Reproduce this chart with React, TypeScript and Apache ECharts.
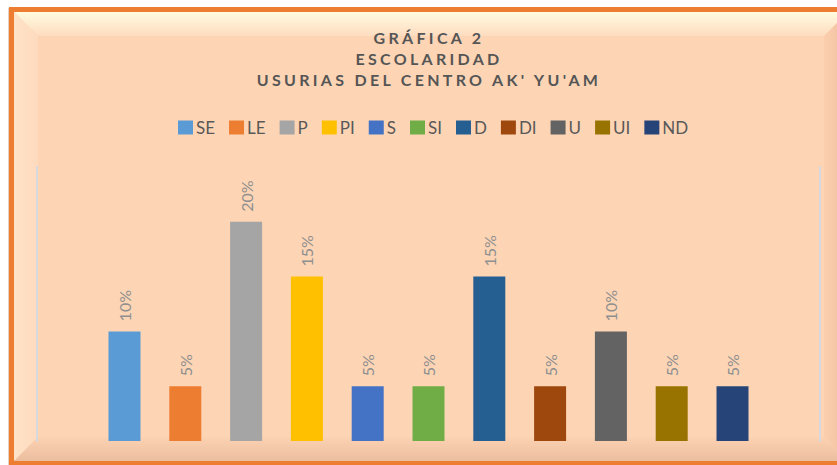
import React, { useEffect, useRef } from "react";
import * as echarts from "echarts";

const seriesNames = ["SE", "LE", "P", "PI", "S", "SI", "D", "DI", "U", "UI", "ND"];
const seriesValues = [10, 5, 20, 15, 5, 5, 15, 5, 10, 5, 5];
const palette = ["#5b9bd5", "#ed7d31", "#a5a5a5", "#ffc000", "#4472c4", "#70ad47", "#255e91", "#9e480e", "#636363", "#997300", "#264478"];
const categories = [""];
const titleLines = ["GRÁFICA 2", "ESCOLARIDAD", "USURIAS DEL CENTRO AK' YU'AM"];

export default function App() {
  const ref = useRef<HTMLDivElement>(null);
  useEffect(() => {
    if (!ref.current) return;
    const el = ref.current;
    const chart = echarts.init(el, null, { renderer: "svg" });
    const peach = "#fdd5b5";
    const X0 = 14, Y0 = 12, X1 = 848, Y1 = 461, B = 24;
    const option: any = {
      animation: false,
      backgroundColor: "#ffffff",
      title: {
        text: titleLines.join("\n"),
        left: 429,
        textAlign: "center",
        top: 27,
        padding: 0,
        textStyle: {
          fontFamily: "Lato",
          fontWeight: "bold",
          fontSize: 16,
          lineHeight: 21,
          color: "#555555",
        },
      },
      legend: {
        top: 119,
        left: 178,
        padding: 0,
        itemWidth: 15,
        itemHeight: 14,
        itemGap: 14,
        icon: "rect",
        textStyle: {
          fontFamily: "Lato",
          fontSize: 17,
          color: "#595959",
          padding: [0, 0, 0, -2],
        },
        data: seriesNames,
      },
      graphic: [
        {
          type: "rect",
          z: -10,
          shape: { x: 11.5, y: 9.5, width: 850, height: 453.5 },
          style: { fill: peach, stroke: "#ed7d31", lineWidth: 5 },
        },
        {
          type: "polygon",
          z: -9,
          shape: { points: [[X0, Y0], [X1, Y0], [X1 - B, Y0 + B], [X0 + B, Y0 + B]] },
          style: {
            fill: { type: "linear", x: 0, y: 0, x2: 0, y2: 1, colorStops: [{ offset: 0, color: "#fffbdf" }, { offset: 1, color: "#fedcc0" }] },
          },
        },
        {
          type: "polygon",
          z: -9,
          shape: { points: [[X0, Y0], [X0 + B, Y0 + B], [X0 + B, Y1 - B], [X0, Y1]] },
          style: {
            fill: { type: "linear", x: 0, y: 0, x2: 1, y2: 0, colorStops: [{ offset: 0, color: "#ffe3c8" }, { offset: 1, color: "#fedabd" }] },
          },
        },
        {
          type: "polygon",
          z: -9,
          shape: { points: [[X0, Y1], [X0 + B, Y1 - B], [X1 - B, Y1 - B], [X1, Y1]] },
          style: {
            fill: { type: "linear", x: 0, y: 0, x2: 0, y2: 1, colorStops: [{ offset: 0, color: "#fbd2b2" }, { offset: 1, color: "#ecbea0" }] },
          },
        },
        {
          type: "polygon",
          z: -9,
          shape: { points: [[X1, Y0], [X1, Y1], [X1 - B, Y1 - B], [X1 - B, Y0 + B]] },
          style: {
            fill: { type: "linear", x: 0, y: 0, x2: 1, y2: 0, colorStops: [{ offset: 0, color: "#fbcfae" }, { offset: 1, color: "#f0bfa0" }] },
          },
        },
        {
          type: "line",
          z: -9,
          shape: { x1: 8.5, y1: 8, x2: 8.5, y2: 465 },
          style: { stroke: "#e6d2c4", lineWidth: 1 },
        },
      ],
      grid: { left: 37, right: 17, top: 167, bottom: 24 },
      xAxis: {
        type: "category",
        data: categories,
        axisLine: { show: false },
        axisTick: { show: false },
        axisLabel: { show: false },
      },
      yAxis: [
        {
          type: "value",
          min: 0,
          max: 25,
          axisLine: { show: true, lineStyle: { color: "#d6d9de", width: 2 } },
          axisTick: { show: false },
          axisLabel: { show: false },
          splitLine: { show: false },
        },
        {
          type: "value",
          min: 0,
          max: 25,
          position: "right",
          axisLine: { show: true, lineStyle: { color: "#d6d9de", width: 2 } },
          axisTick: { show: false },
          axisLabel: { show: false },
          splitLine: { show: false },
        },
      ],
      series: seriesNames.map((name, i) => ({
        name,
        type: "bar",
        data: [seriesValues[i]],
        barWidth: 32,
        barGap: "90%",
        itemStyle: { color: palette[i] },
        label: {
          show: true,
          position: "top",
          rotate: 90,
          align: "left",
          verticalAlign: "middle",
          distance: 10,
          formatter: "{c}%",
          fontFamily: "Lato",
          fontSize: 16,
          color: "#8f8f8f",
        },
      })),
    };
    chart.setOption(option);
    const spaceTitle = () => {
      const texts = el.querySelectorAll("text");
      texts.forEach((t) => {
        if (titleLines.includes((t.textContent || "").trim())) {
          (t as SVGTextElement).style.letterSpacing = "3.3px";
        }
      });
    };
    spaceTitle();
    chart.on("finished", spaceTitle);
    const timer = setTimeout(spaceTitle, 50);
    return () => {
      clearTimeout(timer);
      chart.dispose();
    };
  }, []);
  return <div ref={ref} style={{ position: "absolute", left: 0, top: 0, width: 837, height: 465 }} />;
}
